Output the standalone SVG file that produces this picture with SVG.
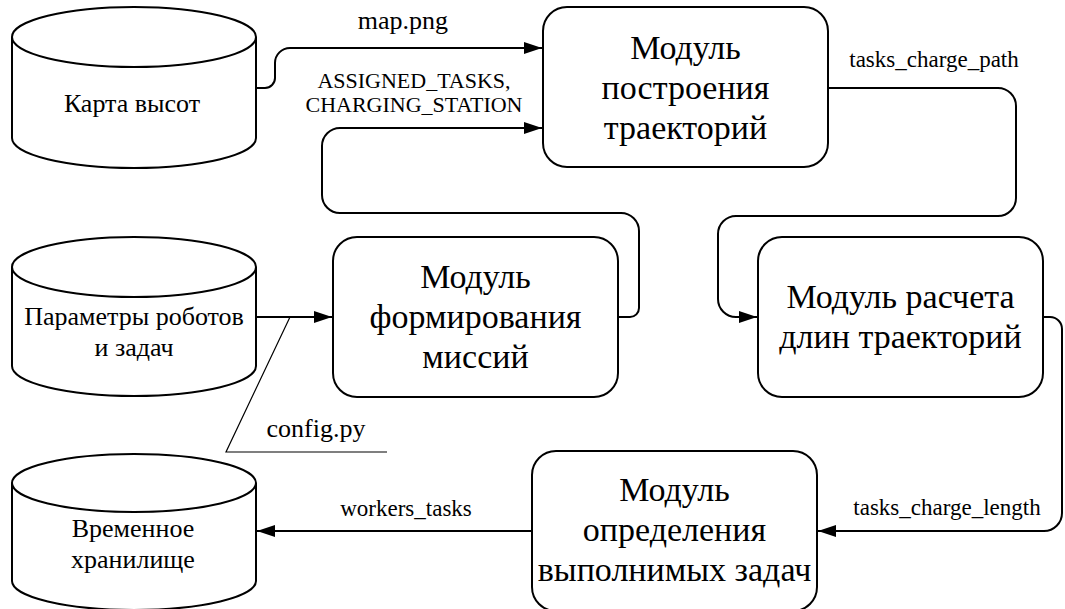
<svg xmlns="http://www.w3.org/2000/svg" width="1065" height="609" viewBox="0 0 1065 609" font-family="Times New Roman">
  <style>
    .shape { fill: #ffffff; stroke: #000000; stroke-width: 2; }
    .edge { fill: none; stroke: #000000; stroke-width: 2; }
    .note { fill: none; stroke: #000000; stroke-width: 1.2; }
    .t { fill: #000000; text-anchor: middle; }
    .mod { font-size: 34px; }
    .db { font-size: 26px; }
    .lbl { font-size: 23px; }
    .lbl-caps { font-size: 22px; }
    .lbl-big { font-size: 26px; }
  </style>
  <defs>
    <marker id="arrow" markerUnits="userSpaceOnUse" markerWidth="19" markerHeight="13" refX="18" refY="6" orient="auto">
      <path d="M0,0 L18,6 L0,12 Z" fill="#000000"/>
    </marker>
  </defs>

  <rect width="1065" height="609" fill="#ffffff"/>

  <!-- connectors -->
  <g id="connectors" font-family="Times New Roman">
    <path id="e-map" class="edge" d="M256,88 H265 A10,10 0 0 0 275,78 V63 A15,15 0 0 1 290,48 H542" marker-end="url(#arrow)"/>
    <path id="e-assigned" class="edge" d="M618,317 H630 A9,9 0 0 0 639,308 V231 A18,18 0 0 0 621,213 H340 A18,18 0 0 1 322,195 V146 A18,18 0 0 1 340,128 H542" marker-end="url(#arrow)"/>
    <path id="e-params" class="edge" d="M256,317 H332" marker-end="url(#arrow)"/>
    <path id="e-path" class="edge" d="M828,88 H998 A18,18 0 0 1 1016,106 V198 A18,18 0 0 1 998,216 H736 A18,18 0 0 0 718,234 V299 A18,18 0 0 0 736,317 H757" marker-end="url(#arrow)"/>
    <path id="e-length" class="edge" d="M1043,317 H1050 A12,12 0 0 1 1062,329 V513 A18,18 0 0 1 1044,531 H818" marker-end="url(#arrow)"/>
    <path id="e-workers" class="edge" d="M532,531 H257" marker-end="url(#arrow)"/>
    <path id="config-note" class="note" d="M290,317 L226,452 H387"/>

    <text class="t lbl-big" x="403" y="29">map.png</text>
    <text class="t lbl-caps" x="414" y="88">ASSIGNED_TASKS,</text>
    <text class="t lbl-caps" x="414" y="112">CHARGING_STATION</text>
    <text class="t lbl" x="934" y="67">tasks_charge_path</text>
    <text class="t lbl" x="947" y="515">tasks_charge_length</text>
    <text class="t lbl" x="406" y="516">workers_tasks</text>
    <text class="t lbl-big" x="316" y="437">config.py</text>
  </g>

  <!-- data stores -->
  <g id="store-heightmap" font-family="Times New Roman">
    <path class="shape" d="M12,37 A122,30 0 0 1 256,37 V138 A122,30 0 0 1 12,138 Z"/>
    <path class="edge" d="M12,37 A122,30 0 0 0 256,37"/>
    <text class="t db" x="132" y="112">Карта высот</text>
  </g>

  <g id="store-params" font-family="Times New Roman">
    <path class="shape" d="M12,267 A122,30 0 0 1 256,267 V366 A122,30 0 0 1 12,366 Z"/>
    <path class="edge" d="M12,267 A122,30 0 0 0 256,267"/>
    <text class="t db" x="134" y="325">Параметры роботов</text>
    <text class="t db" x="134" y="356">и задач</text>
  </g>

  <g id="store-temp" font-family="Times New Roman">
    <path class="shape" d="M12,483 A122,29 0 0 1 256,483 V581 A122,29 0 0 1 12,581 Z"/>
    <path class="edge" d="M12,483 A122,29 0 0 0 256,483"/>
    <text class="t db" x="133" y="537">Временное</text>
    <text class="t db" x="133" y="568">хранилище</text>
  </g>

  <!-- processing modules -->
  <g id="mod-paths" font-family="Times New Roman">
    <rect class="shape" x="543" y="7" width="285" height="160" rx="24" ry="24"/>
    <text class="t mod" x="685.5" y="59">Модуль</text>
    <text class="t mod" x="685.5" y="99">построения</text>
    <text class="t mod" x="685.5" y="139">траекторий</text>
  </g>

  <g id="mod-missions" font-family="Times New Roman">
    <rect class="shape" x="333" y="237" width="285" height="160" rx="24" ry="24"/>
    <text class="t mod" x="475.5" y="288">Модуль</text>
    <text class="t mod" x="475.5" y="328">формирования</text>
    <text class="t mod" x="475.5" y="368">миссий</text>
  </g>

  <g id="mod-lengths" font-family="Times New Roman">
    <rect class="shape" x="758" y="237" width="285" height="160" rx="24" ry="24"/>
    <text class="t mod" x="900.5" y="308">Модуль расчета</text>
    <text class="t mod" x="900.5" y="348">длин траекторий</text>
  </g>

  <g id="mod-feasible" font-family="Times New Roman">
    <rect class="shape" x="532" y="451" width="285" height="160" rx="24" ry="24"/>
    <text class="t mod" x="674.5" y="501">Модуль</text>
    <text class="t mod" x="674.5" y="541">определения</text>
    <text class="t mod" x="674.5" y="581">выполнимых задач</text>
  </g>
</svg>
